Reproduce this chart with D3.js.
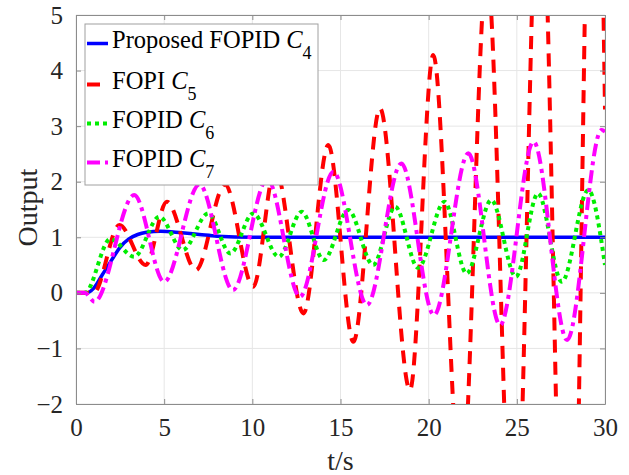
<!DOCTYPE html>
<html>
<head>
<meta charset="utf-8">
<script src="https://cdn.jsdelivr.net/npm/d3@7"></script>
<style>
  body { margin: 0; background: #fff; }
  svg text { font-family: "Liberation Serif", "Times New Roman", Times, serif; }
</style>
</head>
<body>
<div id="chart"></div>
<script>
// step responses, values (extrema + start points)
const xTicks = [0, 5, 10, 15, 20, 25, 30];
const yTicks = [-2, -1, 0, 1, 2, 3, 4, 5];

const c4T = [0, 0.6, 1.0, 1.5, 2.0, 2.5, 3.0, 3.5, 4.0, 4.8, 6.0, 7.0, 8.0, 10.0, 30];
const c4Y = [0, 0, 0.08, 0.33, 0.58, 0.82, 0.97, 1.05, 1.09, 1.11, 1.08, 1.05, 1.02, 1.0, 1.0];

const c5T = [0, 1.0, 2.46, 3.95, 5.15, 6.8, 8.45, 10.05, 11.3, 12.9, 14.31, 15.73, 17.24, 18.94, 20.26, 21.85, 23.3, 24.85, 26.3, 27.95, 29.4, 30];
const c5Y = [0, 0, 1.22, 0.5, 1.64, 0.41, 1.95, 0.11, 2.25, -0.37, 2.66, -0.88, 3.32, -1.75, 4.28, -3.6, 5.8, -5.4, 8.1, -9.0, 11.5, 3.3];

const c6T = [0, 0.5, 1.95, 3.3, 4.73, 6.05, 7.5, 8.75, 10.05, 11.5, 12.8, 14.05, 15.44, 16.85, 18.1, 19.4, 20.9, 22.15, 23.55, 24.95, 26.2, 27.55, 29.05, 30];
const c6Y = [0, 0, 0.97, 0.65, 1.37, 0.77, 1.43, 0.71, 1.43, 0.65, 1.46, 0.59, 1.49, 0.5, 1.55, 0.45, 1.64, 0.35, 1.67, 0.29, 1.79, 0.2, 1.85, 0.5];

const c7T = [0, 0.5, 1.05, 3.3, 5.0, 7.0, 8.9, 10.85, 12.7, 14.6, 16.5, 18.45, 20.3, 22.25, 24.05, 25.95, 27.85, 29.8, 30];
const c7Y = [0, 0, -0.16, 1.76, 0.2, 1.95, 0.05, 2.05, -0.07, 2.18, -0.22, 2.33, -0.4, 2.51, -0.58, 2.72, -0.85, 2.93, 2.9];

const series = [
  { name: 'Proposed FOPID ', sub: '4', t: c4T, y: c4Y, color: '#0000ff', width: 3.5, dash: null },
  { name: 'FOPI ', sub: '5', t: c5T, y: c5Y, color: '#ff0000', width: 4, dash: '13,9' },
  { name: 'FOPID ', sub: '6', t: c6T, y: c6Y, color: '#00ee00', width: 4, dash: '4,4' },
  { name: 'FOPID ', sub: '7', t: c7T, y: c7Y, color: '#ff00ff', width: 4, dash: '13,5,4,5' }
];

const serif = '"Liberation Serif", "Times New Roman", Times, serif';
const width = 629, height = 475;
const margin = { top: 15, right: 24, bottom: 71, left: 76 };
const w = width - margin.left - margin.right,
      h = height - margin.top - margin.bottom;

const svg = d3.select('#chart').append('svg')
    .attr('width', width)
    .attr('height', height)
    .attr('font-family', serif);

const g = svg.append('g')
    .attr('transform', `translate(${margin.left},${margin.top})`);

const x = d3.scaleLinear([0, 30], [0, w]);
const y = d3.scaleLinear([-2, 5], [h, 0]);

// grid
g.append('g').selectAll('line').data(xTicks).join('line')
    .attr('x1', d => x(d)).attr('x2', d => x(d))
    .attr('y1', 0).attr('y2', h)
    .attr('stroke', '#e6e6e6');
g.append('g').selectAll('line').data(yTicks).join('line')
    .attr('y1', d => y(d)).attr('y2', d => y(d))
    .attr('x1', 0).attr('x2', w)
    .attr('stroke', '#e6e6e6');

// lines, clipped to the axes box
svg.append('clipPath').attr('id', 'plot')
    .append('rect').attr('width', w).attr('height', h);

const line = d3.line()
    .x(d => x(d[0]))
    .y(d => y(d[1]))
    .curve(d3.curveMonotoneX);

const plot = g.append('g').attr('clip-path', 'url(#plot)');
series.forEach(s => {
  plot.append('path')
      .datum(s.t.map((t, i) => [t, s.y[i]]))
      .attr('d', line)
      .attr('fill', 'none')
      .attr('stroke', s.color)
      .attr('stroke-width', s.width)
      .attr('stroke-dasharray', s.dash);
});

// axes (box with inward ticks)
const axisColor = '#8c8c8c';
const fmt = d3.format('d');
const xAxis = g.append('g').attr('transform', `translate(0,${h})`)
    .call(d3.axisBottom(x).tickValues(xTicks).tickFormat(fmt).tickSizeInner(-5).tickSizeOuter(0).tickPadding(14));
const yAxis = g.append('g')
    .call(d3.axisLeft(y).tickValues(yTicks).tickFormat(fmt).tickSizeInner(-5).tickSizeOuter(0).tickPadding(13));
const xTop = g.append('g')
    .call(d3.axisTop(x).tickValues(xTicks).tickSizeInner(-5).tickSizeOuter(0).tickFormat(''));
const yRight = g.append('g').attr('transform', `translate(${w},0)`)
    .call(d3.axisRight(y).tickValues(yTicks).tickSizeInner(-5).tickSizeOuter(0).tickFormat(''));

[xAxis, yAxis, xTop, yRight].forEach(a => {
  a.attr('font-family', serif).attr('font-size', 25);
  a.select('.domain').attr('stroke', axisColor);
  a.selectAll('.tick line').attr('stroke', axisColor);
  a.selectAll('text').attr('fill', '#262626');
});

// axis labels
g.append('text')
    .attr('x', w / 2).attr('y', h + 66)
    .attr('text-anchor', 'middle')
    .attr('fill', '#262626')
    .attr('font-size', 28)
    .text('t/s');

svg.append('text')
    .attr('transform', `translate(37,${margin.top + h / 2 - 2}) rotate(-90)`)
    .attr('text-anchor', 'middle')
    .attr('fill', '#262626')
    .attr('font-size', 28)
    .text('Output');

// legend
const legend = svg.append('g').attr('transform', 'translate(85,24)');
legend.append('rect')
    .attr('width', 233).attr('height', 161)
    .attr('fill', '#fff')
    .attr('stroke', '#a0a0a0');

const rowY = [18, 59, 98, 137];
series.forEach((s, i) => {
  const row = legend.append('g').attr('transform', `translate(0,${rowY[i]})`);
  row.append('line')
      .attr('x1', 2).attr('x2', 23)
      .attr('y1', 1.5).attr('y2', 1.5)
      .attr('stroke', s.color)
      .attr('stroke-width', s.width)
      .attr('stroke-dasharray', s.dash);
  const txt = row.append('text')
      .attr('x', 27).attr('y', 6)
      .attr('font-size', 24.5)
      .attr('fill', '#000');
  txt.append('tspan').text(s.name);
  txt.append('tspan').attr('font-style', 'italic').text('C');
  txt.append('tspan').attr('dy', 11).attr('font-size', 18).text(s.sub);
});
</script>
</body>
</html>
